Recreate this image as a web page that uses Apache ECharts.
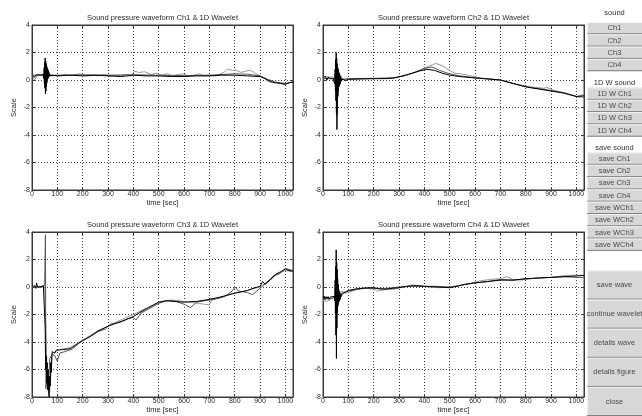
<!DOCTYPE html>
<html><head><meta charset="utf-8">
<script src="https://cdn.jsdelivr.net/npm/echarts@6/dist/echarts.min.js"></script>
<style>html,body{margin:0;padding:0;background:#fff}#c{width:642px;height:416px}</style>
</head><body><div id="c"></div>
<script>
// ---------- tick values ----------
const xMin = 0, xMax = 1030, xStep = 100;
const yMin = -8, yMax = 4, yStep = 2;

// ---------- texts ----------
const plotTitles = [
  'Sound pressure waveform Ch1 & 1D Wavelet',
  'Sound pressure waveform Ch2 & 1D Wavelet',
  'Sound pressure waveform Ch3 & 1D Wavelet',
  'Sound pressure waveform Ch4 & 1D Wavelet'
];
const xName = 'time [sec]';
const yName = 'Scale';
const groupLabels = ['sound', '1D W sound', 'save sound'];
const soundLabels = ['Ch1', 'Ch2', 'Ch3', 'Ch4'];
const waveLabels = ['1D W Ch1', '1D W Ch2', '1D W Ch3', '1D W Ch4'];
const saveLabels = ['save Ch1', 'save Ch2', 'save Ch3', 'save Ch4', 'save WCh1', 'save WCh2', 'save WCh3', 'save WCh4'];
const actionLabels = ['save wave', 'continue wavelet', 'details wave', 'details figure', 'close'];

// ---------- Ch1 ----------
const ch1Raw = [[0,0.3],[5,0.4],[10,0.2],[15,0.35],[20,0.3],[25,0.4],[30,0.3],[35,0.35],[40,0.3],[44,0.4],[46,0.1],[48,0.9],[49,-0.3],[50,1.3],[51,-0.6],[52,1.6],[53,-1.0],[54,1.4],[55,-0.8],[56,1.2],[57,-0.5],[58,1.0],[59,-0.2],[60,0.9],[61,0.0],[62,0.8],[63,0.1],[64,0.7],[65,0.2],[66,0.6],[68,0.25],[70,0.45],[72,0.3],[76,0.4],[80,0.35],[100,0.3],[150,0.35],[200,0.3],[250,0.35],[300,0.3],[350,0.25],[400,0.35],[450,0.3],[500,0.3],[550,0.25],[600,0.25],[650,0.3],[700,0.3],[750,0.35],[800,0.35],[850,0.3],[900,0.25],[920,0.1],[940,-0.1],[960,-0.2],[980,-0.25],[1000,-0.3],[1015,-0.2],[1030,-0.15]];
const ch1Wave1 = [[0,0.35],[100,0.35],[200,0.38],[300,0.35],[400,0.38],[500,0.35],[600,0.32],[700,0.35],[750,0.4],[800,0.45],[850,0.42],[900,0.3],[930,0.05],[960,-0.15],[1000,-0.25],[1030,-0.15]];
const ch1Wave2 = [[0,0.3],[10,0.0],[20,0.3],[40,0.35],[60,0.4],[80,0.3],[100,0.35],[115,0.3],[130,0.45],[145,0.3],[160,0.35],[185,0.45],[200,0.4],[215,0.3],[240,0.35],[260,0.3],[285,0.4],[305,0.3],[330,0.35],[350,0.3],[370,0.4],[390,0.3],[405,0.65],[420,0.55],[445,0.6],[470,0.4],[490,0.5],[510,0.35],[535,0.45],[555,0.3],[575,0.4],[595,0.45],[615,0.3],[640,0.35],[660,0.45],[680,0.3],[700,0.35],[720,0.3],[740,0.4],[760,0.6],[772,0.8],[790,0.7],[805,0.72],[825,0.55],[845,0.65],[862,0.72],[880,0.5],[900,0.3],[915,0.15],[930,-0.1],[950,-0.2],[975,-0.2],[995,-0.35],[1010,-0.25],[1030,-0.1]];

// ---------- Ch2 ----------
const ch2Raw = [[0,0.2],[5,0.1],[10,0.25],[15,0.0],[20,0.2],[25,0.15],[30,0.1],[35,0.2],[40,0.1],[44,0.2],[46,-0.3],[48,0.8],[49,-0.8],[50,1.5],[51,-1.5],[52,2.0],[53,-2.4],[54,1.6],[55,-3.6],[56,1.2],[57,-2.0],[58,0.9],[59,-1.2],[60,0.8],[61,-0.8],[62,0.6],[63,-0.5],[64,0.5],[65,-0.4],[66,0.4],[68,-0.3],[70,0.3],[72,-0.1],[75,0.1],[80,0.0],[90,-0.05],[100,0.05],[150,0.08],[200,0.1],[250,0.1],[280,0.15],[310,0.28],[350,0.48],[380,0.65],[410,0.78],[440,0.7],[470,0.5],[500,0.35],[540,0.25],[600,0.15],[650,0.08],[700,0.0],[750,-0.25],[800,-0.5],[850,-0.65],[900,-0.8],[950,-0.95],[1000,-1.2],[1030,-1.15]];
const ch2Wave1 = [[0,0.1],[30,0.1],[45,0.1],[50,0.5],[53,-1.0],[56,-2.6],[58,0.5],[62,-0.5],[66,0.1],[80,0.05],[100,0.1],[200,0.12],[280,0.15],[320,0.3],[360,0.55],[400,0.85],[430,0.95],[460,0.7],[500,0.45],[540,0.3],[600,0.15],[700,0.0],[760,-0.3],[820,-0.55],[880,-0.7],[940,-0.9],[1000,-1.2],[1030,-1.25]];
const ch2Wave2 = [[0,0.25],[40,0.2],[60,0.1],[80,0.0],[100,0.05],[200,0.1],[280,0.15],[330,0.35],[370,0.6],[410,0.95],[445,1.2],[470,1.05],[500,0.7],[520,0.5],[545,0.45],[570,0.35],[620,0.15],[700,0.0],[760,-0.3],[820,-0.5],[870,-0.6],[885,-0.55],[910,-0.75],[960,-0.95],[1000,-1.2],[1030,-1.05]];

// ---------- Ch3 ----------
const ch3Raw = [[0,0.0],[5,-0.1],[10,0.1],[15,-0.1],[18,0.3],[22,0.0],[28,-0.1],[35,0.0],[40,-0.1],[45,0.1],[50,0.2],[52,-3.0],[54,-6.0],[56,-5.0],[58,-7.0],[60,-5.5],[62,-7.5],[64,-6.0],[66,-7.8],[68,-8.0],[70,-6.5],[72,-7.2],[74,-5.5],[76,-6.2],[78,-5.0],[80,-4.7],[85,-4.6],[90,-4.8],[95,-4.6],[100,-4.6],[120,-4.55],[150,-4.5],[175,-4.2],[200,-3.9],[230,-3.6],[260,-3.2],[300,-2.85],[330,-2.65],[360,-2.45],[400,-2.15],[430,-1.8],[460,-1.5],[500,-1.1],[530,-1.0],[560,-1.05],[600,-1.1],[650,-1.05],[700,-0.9],[750,-0.7],[800,-0.45],[850,-0.25],[880,-0.05],[900,0.05],[910,0.4],[920,0.2],[940,0.5],[960,0.9],[980,1.1],[1000,1.3],[1015,1.2],[1030,1.15]];
const ch3Wave1 = [[0,-0.05],[20,0.0],[40,0.05],[50,0.1],[53,3.8],[55,-7.4],[60,-6.0],[65,-7.2],[70,-5.2],[80,-4.9],[90,-5.0],[100,-5.4],[110,-4.8],[130,-4.7],[160,-4.5],[190,-4.0],[220,-3.7],[260,-3.25],[290,-3.05],[310,-2.7],[350,-2.55],[380,-2.3],[400,-2.2],[410,-2.4],[430,-1.9],[460,-1.6],[500,-1.2],[530,-1.0],[560,-1.0],[600,-1.25],[625,-1.5],[650,-1.1],[680,-1.0],[720,-0.9],[760,-0.7],[790,-0.3],[802,0.0],[815,-0.3],[850,-0.4],[870,-0.55],[900,-0.1],[930,0.4],[955,0.85],[975,0.95],[1000,1.35],[1030,1.2]];
const ch3Wave2 = [[0,0.0],[50,0.0],[60,-6.5],[70,-7.5],[80,-5.0],[100,-4.6],[150,-4.4],[200,-3.85],[250,-3.3],[300,-2.85],[350,-2.4],[400,-2.0],[450,-1.55],[500,-1.1],[550,-0.95],[580,-1.0],[620,-1.1],[660,-1.2],[700,-1.3],[710,-0.95],[760,-0.65],[800,-0.45],[850,-0.25],[900,0.0],[940,0.55],[970,0.95],[1000,1.2],[1030,1.1]];

// ---------- Ch4 ----------
const ch4Raw = [[0,-0.8],[4,-0.65],[8,-0.9],[12,-0.7],[16,-0.85],[20,-0.7],[24,-0.9],[28,-0.75],[32,-0.85],[36,-0.7],[40,-0.8],[44,-0.7],[46,-1.0],[48,0.5],[49,-2.0],[50,1.5],[51,-3.5],[52,2.7],[53,-5.2],[54,1.8],[55,-3.0],[56,1.3],[57,-1.9],[58,0.6],[59,-1.4],[60,0.2],[61,-1.2],[62,-0.2],[63,-1.1],[64,-0.3],[65,-1.0],[66,-0.4],[68,-0.9],[70,-0.5],[72,-0.7],[76,-0.5],[80,-0.45],[90,-0.35],[100,-0.25],[125,-0.15],[150,-0.1],[175,-0.05],[200,-0.05],[225,-0.15],[250,-0.15],[275,-0.1],[300,-0.05],[330,0.05],[360,0.1],[400,0.05],[450,0.0],[500,-0.05],[530,0.05],[560,0.2],[600,0.3],[650,0.4],[700,0.5],[750,0.5],[800,0.6],[850,0.65],[900,0.7],[950,0.75],[1000,0.8],[1030,0.85]];
const ch4Wave1 = [[0,-0.9],[20,-0.85],[40,-0.8],[50,-0.6],[55,-1.2],[60,-0.6],[70,-0.5],[80,-0.4],[100,-0.3],[150,-0.12],[200,-0.1],[250,-0.1],[300,0.0],[350,0.05],[400,0.05],[450,0.05],[500,0.0],[550,0.15],[600,0.3],[650,0.4],[700,0.55],[750,0.5],[800,0.6],[850,0.65],[900,0.7],[950,0.75],[1000,0.7],[1030,0.7]];
const ch4Wave2 = [[0,-1.0],[15,-1.05],[30,-0.9],[45,-0.75],[60,-0.5],[75,-0.3],[85,-0.45],[100,-0.4],[130,-0.2],[160,-0.1],[200,-0.15],[215,-0.3],[240,-0.2],[280,-0.15],[320,0.0],[350,0.15],[380,0.1],[420,0.0],[460,-0.05],[500,0.0],[540,0.1],[580,0.25],[620,0.45],[660,0.55],[700,0.6],[725,0.75],[750,0.55],[780,0.5],[820,0.6],[860,0.7],[900,0.7],[960,0.85],[1000,0.85],[1030,0.85]];

const channels = [
  [ch1Wave2, ch1Wave1, ch1Raw],
  [ch2Wave2, ch2Wave1, ch2Raw],
  [ch3Wave2, ch3Wave1, ch3Raw],
  [ch4Wave2, ch4Wave1, ch4Raw]
];
const lineColors = ['#9a9a9a', '#555555', '#000000'];

// ---------- layout ----------
const FONT = '"Liberation Sans", Arial, sans-serif';
const plotBoxes = [
  {left: 32, top: 25, width: 261, height: 165},
  {left: 323, top: 25, width: 261, height: 165},
  {left: 32, top: 232, width: 261, height: 165},
  {left: 323, top: 232, width: 261, height: 165}
];
const axisColor = '#3a3a3a';
const textColor = '#2a2a2a';

const grids = [], xAxes = [], yAxes = [], series = [], graphics = [];
plotBoxes.forEach((b, i) => {
  grids.push({left: b.left, top: b.top, width: b.width, height: b.height, show: true,
    backgroundColor: '#fff', borderColor: axisColor, borderWidth: 1});
  const tickStyle = {show: true, inside: true, length: 3, lineStyle: {color: axisColor, width: 1}};
  const lineStyle = {show: true, onZero: false, lineStyle: {color: axisColor, width: 1}};
  xAxes.push({gridIndex: i, type: 'value', min: xMin, max: xMax, interval: xStep, position: 'bottom',
    name: xName, nameLocation: 'middle', nameGap: 8,
    nameTextStyle: {fontSize: 7.5, color: textColor, fontFamily: FONT},
    axisLine: lineStyle, axisTick: tickStyle,
    axisLabel: {fontSize: 7, color: textColor, fontFamily: FONT, margin: 1,
      formatter: v => (v % xStep === 0 ? String(v) : '')},
    splitLine: {show: true, lineStyle: {type: [1, 2], color: '#444', width: 1}}});
  xAxes.push({gridIndex: i, type: 'value', min: xMin, max: xMax, interval: xStep, position: 'top',
    axisLine: lineStyle, axisTick: tickStyle, axisLabel: {show: false}, splitLine: {show: false}});
  yAxes.push({gridIndex: i, type: 'value', min: yMin, max: yMax, interval: yStep, position: 'left',
    name: yName, nameLocation: 'middle', nameGap: 14, nameRotate: 90,
    nameTextStyle: {fontSize: 7.5, color: textColor, fontFamily: FONT},
    axisLine: lineStyle, axisTick: tickStyle,
    axisLabel: {fontSize: 7, color: textColor, fontFamily: FONT, margin: 2},
    splitLine: {show: true, lineStyle: {type: [1, 2], color: '#444', width: 1}}});
  yAxes.push({gridIndex: i, type: 'value', min: yMin, max: yMax, interval: yStep, position: 'right',
    axisLine: lineStyle, axisTick: tickStyle, axisLabel: {show: false}, splitLine: {show: false}});
  channels[i].forEach((d, k) => {
    series.push({type: 'line', xAxisIndex: 2 * i, yAxisIndex: 2 * i, data: d,
      showSymbol: false, symbol: 'none', silent: true, animation: false, z: 2 + k,
      lineStyle: {color: lineColors[k], width: 1}});
  });
  graphics.push({type: 'text', x: b.left + b.width / 2, y: b.top - 7, z: 10,
    style: {text: plotTitles[i], fill: textColor, font: '7.5px ' + FONT,
      align: 'center', verticalAlign: 'middle', textAlign: 'center', textVerticalAlign: 'middle'}});
});

// ---------- button panel ----------
const btnX = 587, btnW = 55, btnCx = 614.5;
function addButton(label, top, h) {
  graphics.push({type: 'rect', shape: {x: btnX, y: top, width: btnW, height: h},
    style: {fill: '#d7d7d7'}, z: 5});
  graphics.push({type: 'line', shape: {x1: btnX, y1: top + 0.5, x2: btnX + btnW, y2: top + 0.5},
    style: {stroke: '#f2f2f2', lineWidth: 1}, z: 6});
  graphics.push({type: 'line', shape: {x1: btnX + 0.5, y1: top, x2: btnX + 0.5, y2: top + h},
    style: {stroke: '#f2f2f2', lineWidth: 1}, z: 6});
  graphics.push({type: 'line', shape: {x1: btnX, y1: top + h - 0.5, x2: btnX + btnW, y2: top + h - 0.5},
    style: {stroke: '#808080', lineWidth: 1}, z: 6});
  graphics.push({type: 'text', x: btnCx, y: top + h / 2, z: 7,
    style: {text: label, fill: '#4a4a4a', font: '7.5px ' + FONT,
      align: 'center', verticalAlign: 'middle', textAlign: 'center', textVerticalAlign: 'middle'}});
}
function addLabel(label, y) {
  graphics.push({type: 'text', x: btnCx, y: y, z: 7,
    style: {text: label, fill: '#333', font: '7.5px ' + FONT,
      align: 'center', verticalAlign: 'middle', textAlign: 'center', textVerticalAlign: 'middle'}});
}
const smallStep = 12.3;
addLabel(groupLabels[0], 12.5);
soundLabels.forEach((t, j) => addButton(t, 22 + j * smallStep, smallStep));
addLabel(groupLabels[1], 82.5);
waveLabels.forEach((t, j) => addButton(t, 87.5 + j * smallStep, smallStep));
addLabel(groupLabels[2], 148);
saveLabels.forEach((t, j) => addButton(t, 152.5 + j * smallStep, smallStep));
const bigStep = 29.1;
actionLabels.forEach((t, j) => addButton(t, 270.5 + j * bigStep, bigStep));

const chart = echarts.init(document.getElementById('c'), null, {renderer: 'canvas'});
chart.setOption({
  animation: false,
  backgroundColor: '#fff',
  grid: grids,
  xAxis: xAxes,
  yAxis: yAxes,
  series: series,
  graphic: graphics
});
</script>
</body></html>
